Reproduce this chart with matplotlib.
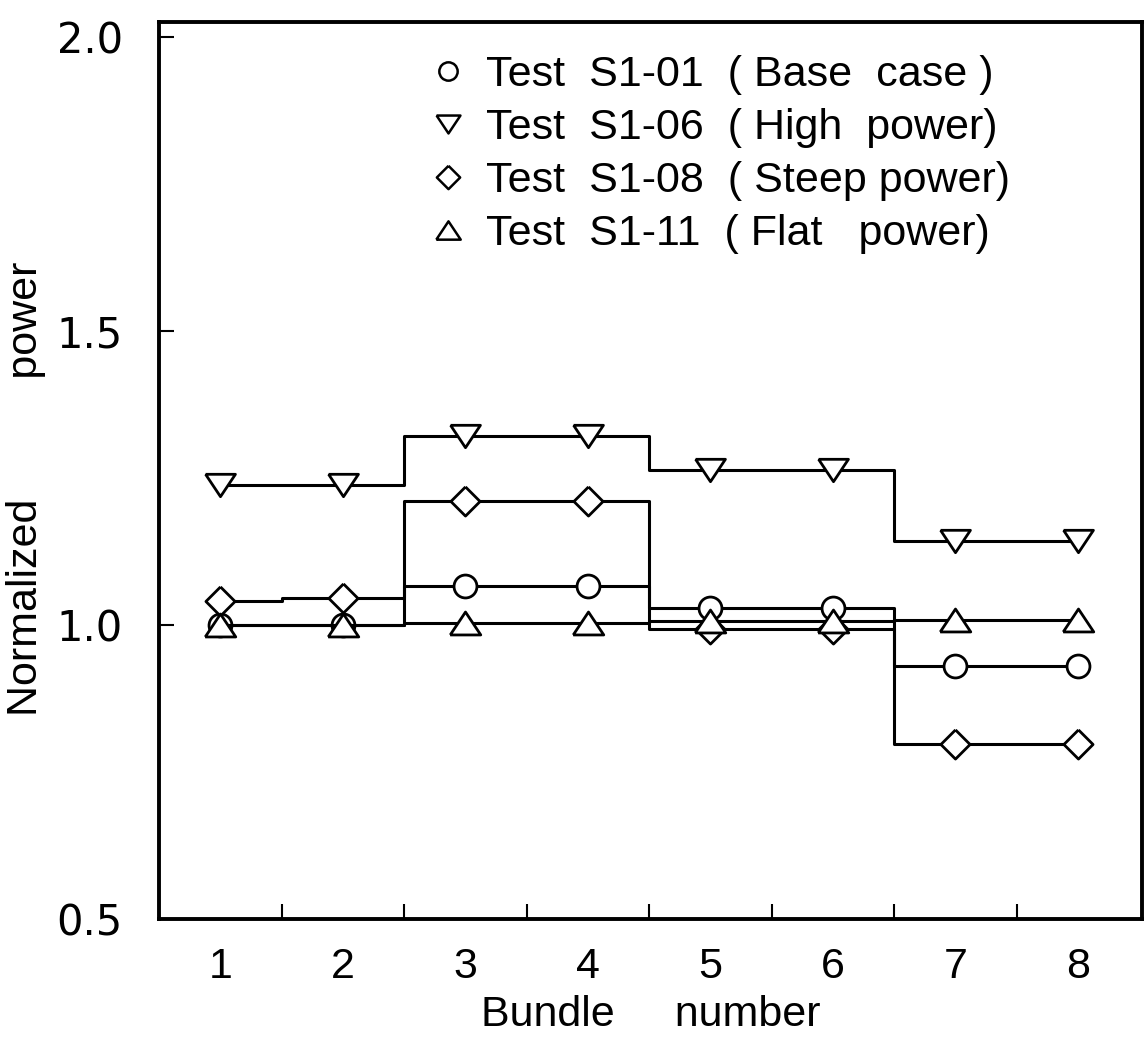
import numpy as np
import matplotlib
matplotlib.use("Agg")
import matplotlib.pyplot as plt
from matplotlib.lines import Line2D

# values
bundles = [1, 2, 3, 4, 5, 6, 7, 8]
base_case = [1.000, 1.000, 1.066, 1.066, 1.028, 1.028, 0.930, 0.930]
high_power = [1.238, 1.238, 1.322, 1.322, 1.264, 1.264, 1.143, 1.143]
steep_power = [1.040, 1.045, 1.211, 1.211, 0.993, 0.993, 0.798, 0.798]
flat_power = [1.000, 1.000, 1.003, 1.003, 1.007, 1.007, 1.009, 1.009]

labels = ["Test  S1-01  ( Base  case )",
          "Test  S1-06  ( High  power)",
          "Test  S1-08  ( Steep power)",
          "Test  S1-11  ( Flat   power)"]

yticks = [0.5, 1.0, 1.5, 2.0]
ytick_labels = ["0.5", "1.0", "1.5", "2.0"]

narrow = "Liberation Sans"

# marker shapes (hollow, white filled)
up_tri = [(-1, -0.75), (1, -0.75), (0, 0.75), (-1, -0.75)]
down_tri = [(-1, 0.75), (1, 0.75), (0, -0.75), (-1, 0.75)]
diamond = [(0, 1), (1, 0), (0, -1), (-1, 0), (0, 1)]

series = [
    (base_case, "o", 16.5),
    (high_power, down_tri, 21.5),
    (steep_power, diamond, 21),
    (flat_power, up_tri, 22),
]

fig = plt.figure(figsize=(11.44, 10.51), dpi=100)
ax = fig.add_axes([0.139, 0.1256, 0.859, 0.8534])

for vals, mk, ms in series:
    ax.plot(bundles, vals, drawstyle="steps-mid", color="black", lw=2.2,
            marker=mk, markersize=ms, markerfacecolor="white",
            markeredgecolor="black", markeredgewidth=2.0, zorder=3)

ax.set_xlim(0.5, 8.52)
ax.set_ylim(0.5, 2.025)

ax.set_xticks(bundles)
ax.set_xticklabels([str(b) for b in bundles], fontfamily=narrow, fontsize=31)
ax.set_xticks(np.arange(1.5, 8.0, 1.0), minor=True)
ax.tick_params(axis="x", which="major", length=0, pad=20)
ax.tick_params(axis="x", which="minor", direction="in", length=11, width=1.5)

ax.set_yticks(yticks)
ax.set_yticklabels(ytick_labels, fontfamily="DejaVu Sans", fontsize=30)
ax.tick_params(axis="y", direction="in", length=11, width=1.5, pad=26)

for s in ax.spines.values():
    s.set_linewidth(2.8)

ax.set_xlabel("Bundle     number", fontfamily=narrow, fontsize=31, labelpad=6)
ax.set_ylabel("Normalized          power", fontfamily=narrow, fontsize=31)
ax.yaxis.set_label_coords(-0.115, 0.48)

handles = []
for vals, mk, ms in series:
    handles.append(Line2D([], [], ls="none", marker=mk, markersize=ms * 0.8,
                          markerfacecolor="white", markeredgecolor="black",
                          markeredgewidth=1.8))
leg = ax.legend(handles, labels, loc="upper left", bbox_to_anchor=(0.233, 1.006),
                frameon=False, prop={"family": narrow, "size": 31},
                handlelength=1.0, handletextpad=0.38, labelspacing=0.3)

fig.savefig("out.png", dpi=100)
